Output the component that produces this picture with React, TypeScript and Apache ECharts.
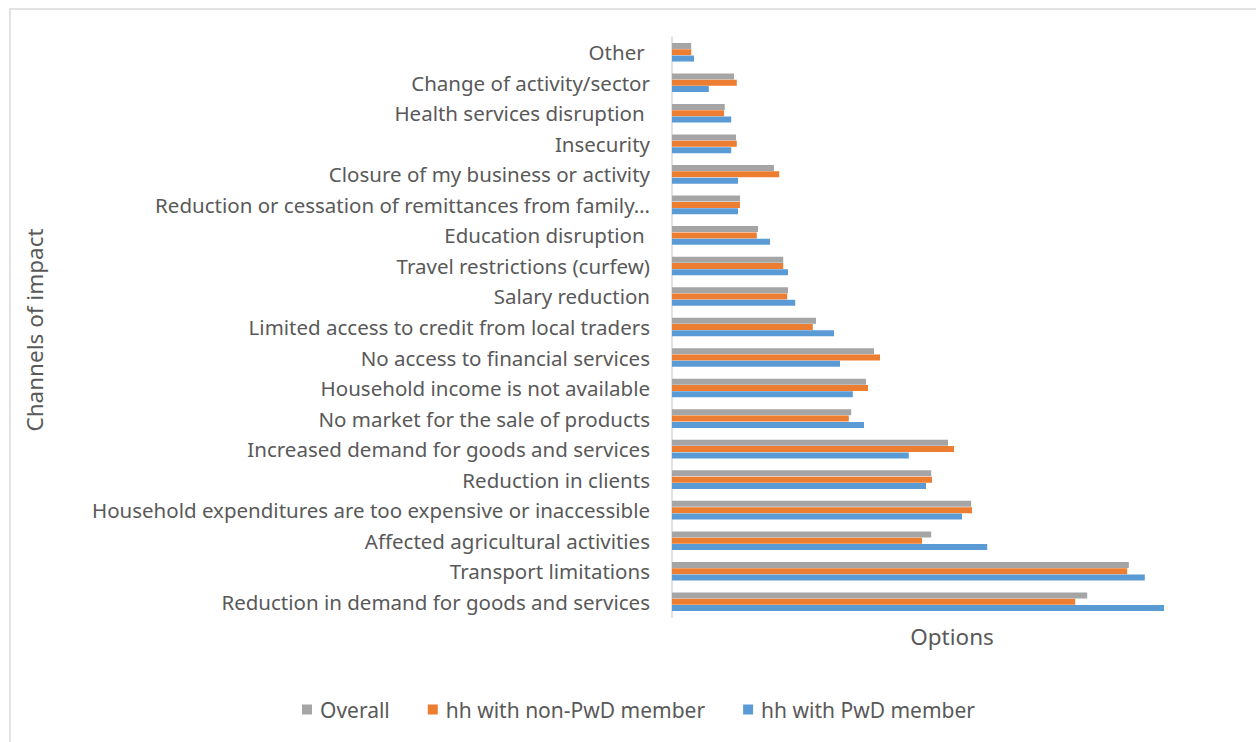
import React, { useEffect, useRef } from "react";
import * as echarts from "echarts";

// Categories listed bottom -> top
const categories = [
  "Reduction in demand for goods and services",
  "Transport limitations",
  "Affected agricultural activities",
  "Household expenditures are too expensive or inaccessible",
  "Reduction in clients",
  "Increased demand for goods and services",
  "No market for the sale of products",
  "Household income is not available",
  "No access to financial services",
  "Limited access to credit from local traders",
  "Salary reduction",
  "Travel restrictions (curfew)",
  "Education disruption ",
  "Reduction or cessation of remittances from family…",
  "Closure of my business or activity",
  "Insecurity",
  "Health services disruption ",
  "Change of activity/sector",
  "Other ",
];

const overall = [51.9, 57.1, 32.4, 37.4, 32.4, 34.5, 22.4, 24.25, 25.25, 18.0, 14.5, 13.9, 10.75, 8.5, 12.75, 8.0, 6.6, 7.75, 2.4];
const nonPwd = [50.4, 56.9, 31.25, 37.5, 32.5, 35.25, 22.1, 24.5, 26.0, 17.6, 14.4, 13.9, 10.6, 8.5, 13.4, 8.1, 6.5, 8.1, 2.4];
const pwd = [61.5, 59.1, 39.4, 36.25, 31.75, 29.6, 24.0, 22.6, 21.0, 20.25, 15.4, 14.5, 12.25, 8.25, 8.25, 7.4, 7.4, 4.6, 2.75];

const seriesNames = ["Overall", "hh with non-PwD member", "hh with PwD member"];
const colors = ["#A5A5A5", "#ED7D31", "#5B9BD5"];

export default function App() {
  const ref = useRef<HTMLDivElement>(null);
  useEffect(() => {
    const chart = echarts.init(ref.current!, null, { renderer: "svg" });
    const font = "Noto Sans";
    chart.setOption({
      animation: false,
      textStyle: { fontFamily: font },
      graphic: [
        {
          type: "rect",
          shape: { x: 10, y: 9, width: 1400, height: 900 },
          style: { fill: "none", stroke: "#D9D9D9", lineWidth: 1.5 },
          silent: true,
        },
        {
          type: "text",
          x: 34,
          y: 330,
          rotation: Math.PI / 2,
          style: {
            text: "Channels of impact",
            fontSize: 22.5,
            fontFamily: font,
            fill: "#595959",
            align: "center",
            verticalAlign: "middle",
          },
        },
      ],
      legend: {
        data: seriesNames,
        bottom: 17,
        left: 297,
        itemWidth: 10,
        itemHeight: 10,
        itemGap: 38,
        icon: "rect",
        textStyle: { fontSize: 21, color: "#595959", fontFamily: font, padding: [0, 0, 0, 3] },
      },
      grid: { left: 672, right: 24, top: 37, bottom: 125 },
      xAxis: {
        type: "value",
        min: 0,
        max: 70,
        name: "Options",
        nameLocation: "middle",
        nameGap: 8,
        nameTextStyle: { fontSize: 22.5, color: "#595959", fontFamily: font },
        axisLabel: { show: false },
        axisLine: { show: false },
        axisTick: { show: false },
        splitLine: { show: false },
      },
      yAxis: {
        type: "category",
        data: categories,
        axisLine: { show: true, lineStyle: { color: "#D9D9D9", width: 1.5 } },
        axisTick: { show: false },
        axisLabel: { fontSize: 20.5, color: "#595959", margin: 22, fontFamily: font },
      },
      series: [
        { name: seriesNames[0], type: "bar", data: overall, itemStyle: { color: colors[0] }, barWidth: 6, barGap: "5%" },
        { name: seriesNames[1], type: "bar", data: nonPwd, itemStyle: { color: colors[1] }, barWidth: 6, barGap: "5%" },
        { name: seriesNames[2], type: "bar", data: pwd, itemStyle: { color: colors[2] }, barWidth: 6, barGap: "5%" },
      ],
    });
    return () => chart.dispose();
  }, []);
  return (
    <div
      ref={ref}
      style={{ position: "fixed", left: 0, top: 0, width: 1256, height: 742, background: "#fff" }}
    />
  );
}
